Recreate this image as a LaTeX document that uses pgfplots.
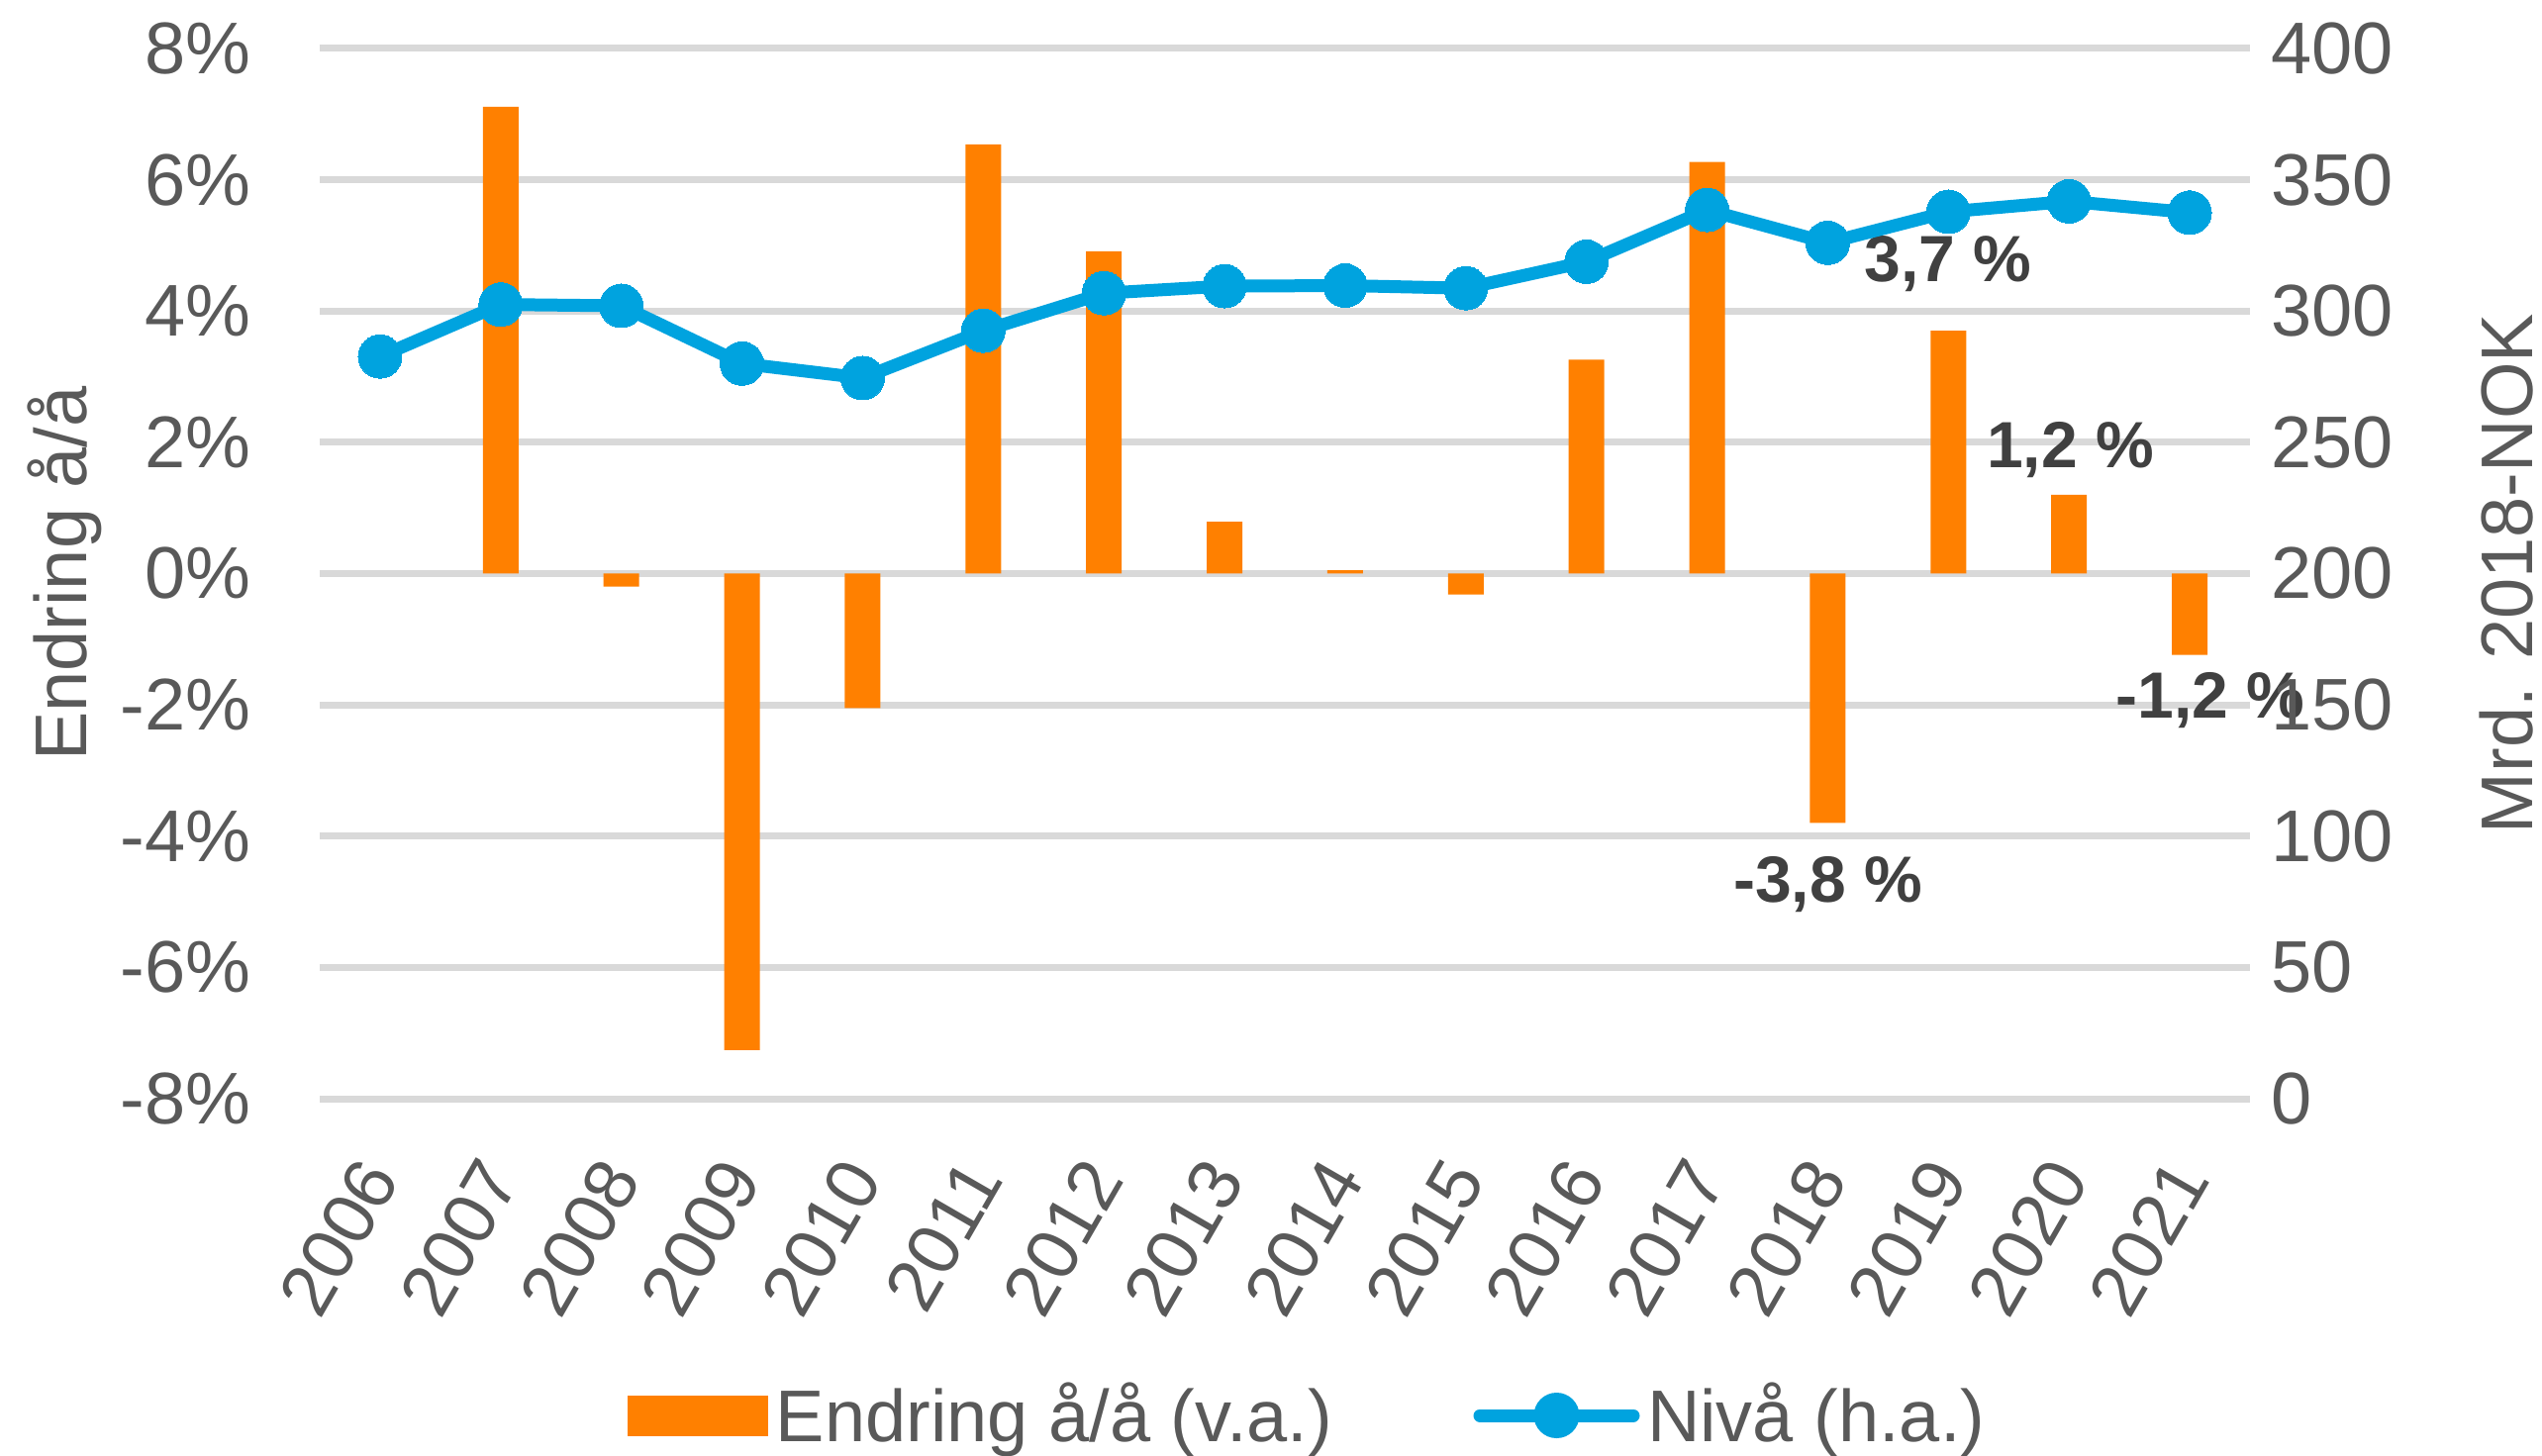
\documentclass[border=0pt]{standalone}
\usepackage{pgfplots}
\usepackage{pgfplotstable}
\pgfplotsset{compat=1.18}
\usepackage{fontspec}
\setmainfont{Liberation Sans}
\definecolor{barorange}{HTML}{FF8000}
\definecolor{lineblue}{HTML}{00A3DF}
\definecolor{txtgray}{HTML}{595959}
\definecolor{lblgray}{HTML}{404040}
\definecolor{gridgray}{HTML}{D9D9D9}

\pgfplotstableread{
x y
1 7.11
2 -0.20
3 -7.26
4 -2.05
5 6.54
6 4.91
7 0.79
8 0.05
9 -0.32
10 3.26
11 6.27
12 -3.80
13 3.70
14 1.20
15 -1.24
}\chg

\pgfplotstableread{
x y
0 282.7
1 302.5
2 302.0
3 280.0
4 274.5
5 292.5
6 306.8
7 309.5
8 309.7
9 308.7
10 318.8
11 338.5
12 326.0
13 337.8
14 341.8
15 337.5
}\lvl

\pgfplotsset{
  common/.style={
    scale only axis, width=390pt, height=212.2pt,
    at={(0,0)}, anchor=south west,
    xmin=-0.5, xmax=15.5,
    axis line style={draw=none},
    tick style={draw=none},
    font=\fontsize{14.8}{17}\selectfont,
    /pgf/number format/assume math mode=true,
    every tick label/.append style={text=txtgray},
    label style={text=txtgray},
  }
}

\begin{document}
\begin{tikzpicture}
\begin{axis}[common,
  ymin=-8, ymax=8,
  ytick={-8,-6,...,8},
  yticklabels={-8\%,-6\%,-4\%,-2\%,0\%,2\%,4\%,6\%,8\%},
  yticklabel style={anchor=east, inner sep=0pt, xshift=-13.8pt},
  xtick={0,...,15},
  xticklabels={2006,2007,2008,2009,2010,2011,2012,2013,2014,2015,2016,2017,2018,2019,2020,2021},
  xticklabel style={yshift=-13.6pt, rotate=60, anchor=east, inner sep=0pt},
  ymajorgrids, grid style={gridgray, line width=1.4pt},
  ylabel={Endring å/å},
  ylabel style={at={(axis description cs:-0.132,0.5)}, anchor=center},
  clip=false,
  legend columns=2,
  legend style={at={(axis description cs:0.513,-0.3016)}, anchor=center, draw=none, fill=none,
    text=txtgray, font=\fontsize{14.8}{17}\selectfont,
    nodes={inner sep=1.5pt},
    /tikz/every even column/.append style={column sep=27pt}},
]
\addplot[ybar, bar width=7.2pt, fill=barorange, draw=none,
  legend image code/.code={\fill[barorange] (0pt,-4.1pt) rectangle (28.5pt,4.1pt);}]
  table[x=x, y=y] {\chg};
\addlegendentry{Endring å/å (v.a.)}
\addlegendimage{legend image code/.code={\draw[lineblue, line width=2.6pt, line cap=round] (0pt,0pt) -- (31pt,0pt); \fill[lineblue] (15.5pt,0pt) circle (4.4pt);}}
\addlegendentry{Nivå (h.a.)}
\node[font=\fontsize{13.2}{15}\selectfont\bfseries, text=lblgray] at (axis cs:13.0,4.72) {3,7 \%};
\node[font=\fontsize{13.2}{15}\selectfont\bfseries, text=lblgray] at (axis cs:14.01,1.88) {1,2 \%};
\node[font=\fontsize{13.2}{15}\selectfont\bfseries, text=lblgray] at (axis cs:15.17,-1.93) {-1,2 \%};
\node[font=\fontsize{13.2}{15}\selectfont\bfseries, text=lblgray] at (axis cs:12.0,-4.74) {-3,8 \%};
\end{axis}
\begin{axis}[common,
  ymin=0, ymax=400,
  ytick={0,50,...,400},
  yticklabel pos=right,
  yticklabel style={anchor=west, inner sep=0pt, xshift=4pt},
  xtick=\empty,
  ylabel={Mrd. 2018-NOK},
  ylabel style={at={(axis description cs:1.133,0.5)}, anchor=center},
]
\addplot[lineblue, line width=2.6pt, mark=*, mark size=4.4pt,
  mark options={fill=lineblue, draw=lineblue, line width=0pt}]
  table[x=x, y=y] {\lvl};
\end{axis}
\pgfresetboundingbox
\path (-64.6pt,-72.2pt) rectangle (449pt,222pt);
\end{tikzpicture}
\end{document}
